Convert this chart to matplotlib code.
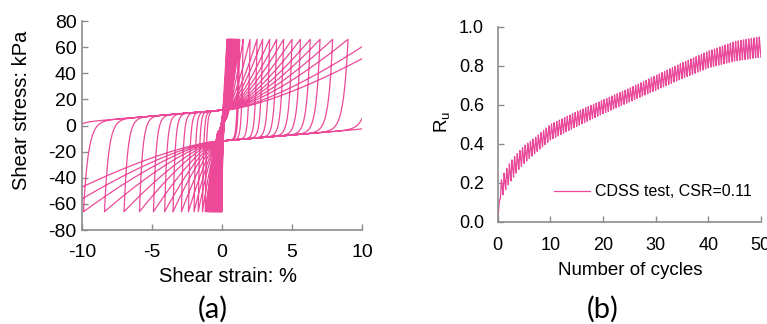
import numpy as np
import matplotlib.pyplot as plt

plt.rcParams['font.family'] = ['Liberation Sans', 'DejaVu Sans']
plt.rcParams['axes.unicode_minus'] = False

# (a) peak shear strains (%) reached in each cycle, stress amplitude in kPa
tau_amp = 66.0
pos_peaks = [0.36, 0.38, 0.40, 0.42, 0.44, 0.46, 0.48, 0.50, 0.52, 0.54,
             0.56, 0.58, 0.60, 0.62, 0.64, 0.66, 0.68, 0.70, 0.72, 0.74,
             0.76, 0.78, 0.80, 0.83, 0.86, 0.89, 0.92, 0.95, 0.98, 1.01,
             1.04, 1.08, 1.12, 1.16, 1.25,
             1.5, 2.0, 2.5, 2.9, 3.4, 3.9, 4.4, 5.0, 5.6, 6.3, 7.0, 7.9, 9.0,
             10.8, 12.5]
neg_peaks = [-0.02, -0.04, -0.06, -0.08, -0.10, -0.13, -0.16, -0.19, -0.22,
             -0.25, -0.28, -0.31, -0.34, -0.37, -0.40, -0.43, -0.46, -0.49,
             -0.52, -0.55, -0.58, -0.61, -0.64, -0.67, -0.70, -0.73, -0.76,
             -0.79, -0.82, -0.86, -0.90, -0.94, -0.98, -1.04, -1.10,
             -1.2, -1.4, -1.7, -2.0, -2.4, -2.9, -3.5, -4.1, -4.9, -5.9,
             -7.0, -8.4, -9.9, -11.5, -13.5]

# (b) envelope of excess pore pressure ratio, read at some cycles
ru_cycles = [0, 0.5, 1, 2, 3, 4, 5, 7, 10, 15, 20, 25, 30, 35, 40, 45, 50]
ru_upper = [0.0, 0.20, 0.24, 0.29, 0.33, 0.36, 0.39, 0.43, 0.50, 0.565,
            0.625, 0.685, 0.75, 0.815, 0.875, 0.925, 0.95]
ru_lower = [0.0, 0.12, 0.14, 0.19, 0.23, 0.27, 0.30, 0.35, 0.42, 0.49,
            0.555, 0.615, 0.675, 0.735, 0.79, 0.825, 0.845]


def branch(a, b, n=1500):
    # loading branch from strain a (at -tau_amp) to strain b (at +tau_amp)
    eps = np.linspace(a, b, n)
    e0, s0, k, p = 0.3, 12.0, 0.9, 1.4
    if abs(a) <= 1.15:
        w = 0.08 + 0.45 * abs(a)
    else:
        w = 0.05 + 0.03 * abs(a)

    def g(e):
        r = np.clip((e - e0) / (b - e0), 0, 1)
        return np.where(e < e0, s0 + k * (e - e0), s0 + (tau_amp - s0) * r ** p)

    tau = g(eps) + (-tau_amp - g(np.array(a))) * np.exp(-(eps - a) / w)
    return eps, tau


xs, ys = [np.array([0.0, pos_peaks[0]])], [np.array([0.0, tau_amp])]
for i in range(len(pos_peaks)):
    e, t = branch(-pos_peaks[i], -neg_peaks[i])
    xs.append(-e)
    ys.append(-t)
    if i + 1 < len(pos_peaks):
        e, t = branch(neg_peaks[i], pos_peaks[i + 1])
        xs.append(e)
        ys.append(t)
strain = np.concatenate(xs)
stress = np.concatenate(ys)

t_cyc = np.linspace(0, 50, 20001)
phase = (t_cyc * 2) % 1
tooth = np.where(phase < 0.4, phase / 0.4, 1 - (phase - 0.4) / 0.6)
up = np.interp(t_cyc, ru_cycles, ru_upper)
lo = np.interp(t_cyc, ru_cycles, ru_lower)
ru = lo + (up - lo) * tooth

fig = plt.figure(figsize=(7.67, 3.24), dpi=100)
ax1 = fig.add_axes([0.107, 0.290, 0.365, 0.645])
ax2 = fig.add_axes([0.649, 0.315, 0.343, 0.602])

spine_c = '#8c8c8c'
for ax in (ax1, ax2):
    ax.spines['top'].set_visible(False)
    ax.spines['right'].set_visible(False)
    for s in ('left', 'bottom'):
        ax.spines[s].set_color(spine_c)
        ax.spines[s].set_linewidth(1.2)
    ax.tick_params(direction='in', length=4, width=1, color=spine_c)

ax1.plot(strain, stress, color='#EC4A98', lw=0.9)
ax1.set_xlim(-10, 10)
ax1.set_ylim(-80, 80)
ax1.set_xticks([-10, -5, 0, 5, 10])
ax1.set_yticks(np.arange(-80, 81, 20))
ax1.tick_params(axis='both', labelsize=14)
ax1.tick_params(axis='x', pad=10)
ax1.tick_params(axis='y', pad=4)
ax1.set_xlabel('Shear strain: %', fontsize=14.5)
ax1.set_ylabel('Shear stress: kPa', fontsize=14.5)
ax1.xaxis.set_label_coords(0.52, -0.177)
ax1.yaxis.set_label_coords(-0.182, 0.574)

ax2.plot(t_cyc, ru, color='#E9489A', lw=0.9, label='CDSS test, CSR=0.11')
ax2.set_xlim(0, 50)
ax2.set_ylim(0, 1.0)
ax2.set_xticks(np.arange(0, 51, 10))
ax2.set_yticks(np.arange(0, 1.01, 0.2))
ax2.set_yticklabels([f'{v:.1f}' for v in np.arange(0, 1.01, 0.2)])
ax2.tick_params(axis='both', labelsize=13)
ax2.tick_params(axis='x', pad=11)
ax2.tick_params(axis='y', pad=10)
ax2.set_xlabel('Number of cycles', fontsize=13.5)
ax2.set_ylabel('$\\mathregular{R_u}$', fontsize=13.5)
ax2.xaxis.set_label_coords(0.502, -0.205)
ax2.yaxis.set_label_coords(-0.175, 0.513)
ax2.legend(frameon=False, loc='center right', bbox_to_anchor=(0.996, 0.154),
           fontsize=11.5, handlelength=2.3, handletextpad=0.3, borderpad=0)

fig.text(0.278, 0.046, '(a)', ha='center', va='center', fontsize=21,
         family=['Lato', 'DejaVu Sans'])
fig.text(0.786, 0.046, '(b)', ha='center', va='center', fontsize=21,
         family=['Lato', 'DejaVu Sans'])

fig.savefig('out.png', dpi=100)
